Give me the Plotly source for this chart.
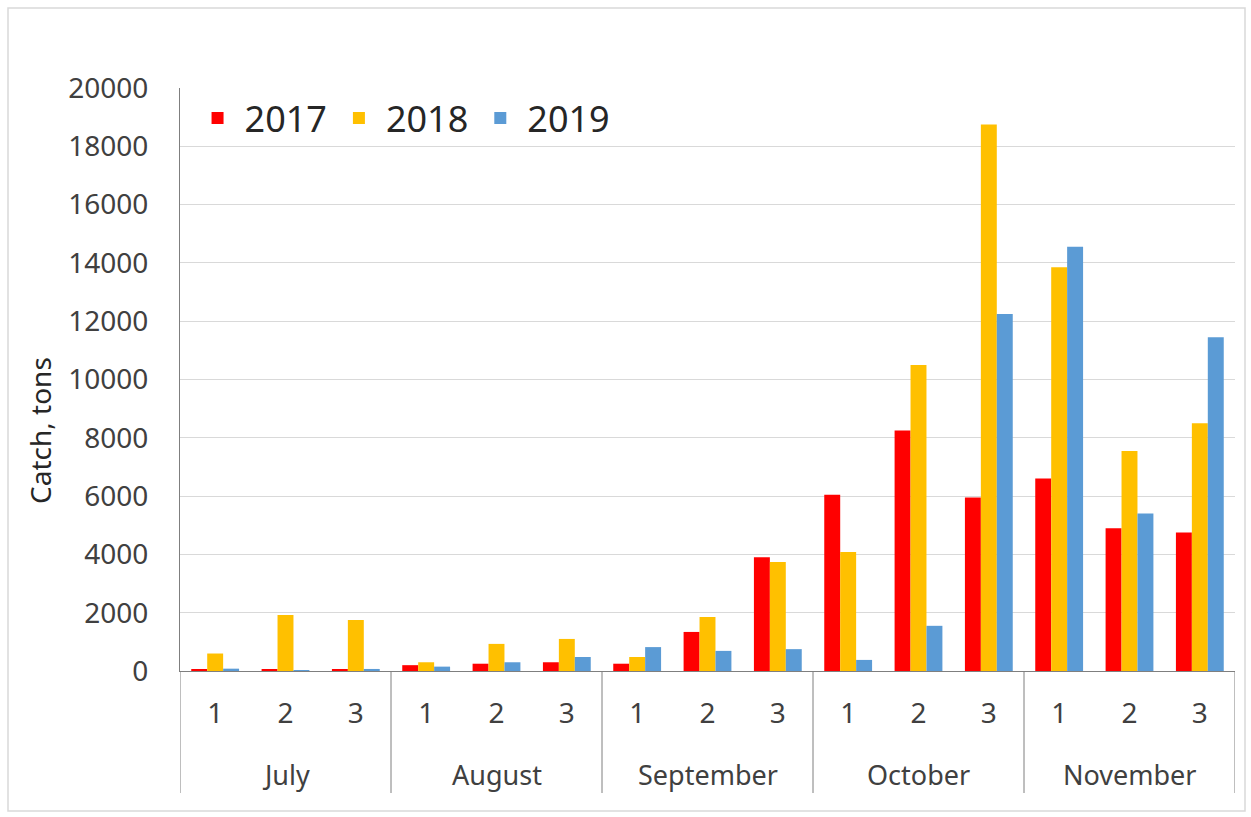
import plotly.graph_objects as go

months = ["July", "August", "September", "October", "November"]
decades = ["1", "2", "3"]
years = ["2017", "2018", "2019"]
v2017 = [50, 50, 60, 200, 250, 300, 250, 1340, 3900, 6050, 8250, 5950, 6600, 4900, 4750]
v2018 = [600, 1920, 1750, 300, 930, 1100, 480, 1850, 3740, 4080, 10500, 18750, 13850, 7550, 8500]
v2019 = [80, 30, 70, 150, 300, 480, 820, 690, 750, 380, 1550, 12250, 14550, 5400, 11450]
colors = ["#FF0000", "#FFC000", "#5B9BD5"]
yticks = list(range(0, 20001, 2000))

cats = [f"{m}-{d}" for m in months for d in decades]
ticktext = [d for _ in months for d in decades]

W, H = 1251, 817
L, R, T, B = 180, 16, 88, 146
ph = H - T - B
pw = W - L - R

fig = go.Figure()
for name, vals, c in zip(years, [v2017, v2018, v2019], colors):
    fig.add_trace(go.Bar(x=cats, y=vals, name=name, marker=dict(color=c, line=dict(width=0))))

font = "Noto Sans"
fig.update_layout(
    width=W, height=H,
    margin=dict(l=L, r=R, t=T, b=B),
    paper_bgcolor="white", plot_bgcolor="white",
    barmode="group", bargap=0.32, bargroupgap=0,
    font=dict(family=font, size=28, color="#404040"),
    legend=dict(orientation="h", x=0.01, y=1.0, xanchor="left", yanchor="top",
                font=dict(size=36, color="#262626"), bgcolor="rgba(0,0,0,0)",
                itemwidth=44, tracegroupgap=0),
    showlegend=True,
)
fig.update_yaxes(range=[0, 20000], tickvals=yticks, ticktext=[str(t) for t in yticks],
                 showgrid=True, gridcolor="#D9D9D9", gridwidth=1, zeroline=False,
                 showline=True, linecolor="#7F7F7F", linewidth=1, ticks="",
                 ticklabelstandoff=25, tickfont=dict(size=28, color="#404040"))
fig.update_xaxes(type="category", categoryorder="array", categoryarray=cats,
                 tickvals=cats, ticktext=ticktext, showline=True, linecolor="#7F7F7F",
                 linewidth=1, ticks="", ticklabelstandoff=17,
                 tickfont=dict(size=28, color="#404040"), range=[-0.5, len(cats) - 0.5])

# y-axis title (placed as in the original, centred on plot + category labels)
fig.add_annotation(text="Catch, tons", textangle=-90, xref="paper", yref="paper",
                   x=(40 - L) / pw, y=1 - (431 - T) / ph, xanchor="center", yanchor="middle",
                   showarrow=False, font=dict(size=28, color="#262626"))

n = len(decades)
month_y = -(774 - (H - B)) / ph
div_y = -(793 - (H - B)) / ph
for i, m in enumerate(months):
    fig.add_annotation(x=cats[i * n + n // 2], xref="x", y=month_y, yref="paper",
                       text=m, showarrow=False, yanchor="middle",
                       font=dict(size=27, color="#404040"))
for i in range(len(months) + 1):
    fig.add_shape(type="line", xref="x", yref="paper", x0=i * n - 0.5, x1=i * n - 0.5,
                  y0=0, y1=div_y, line=dict(color="#7F7F7F", width=1))
fig.add_shape(type="rect", xref="paper", yref="paper",
              x0=(8 - L) / pw, x1=(1245 - L) / pw,
              y0=-(811 - (H - B)) / ph, y1=1 + (T - 8) / ph,
              line=dict(color="#D9D9D9", width=1.5), layer="below")
fig.write_html("out.html", config={"displayModeBar": False},
               post_script="document.body.style.margin='0px';")
